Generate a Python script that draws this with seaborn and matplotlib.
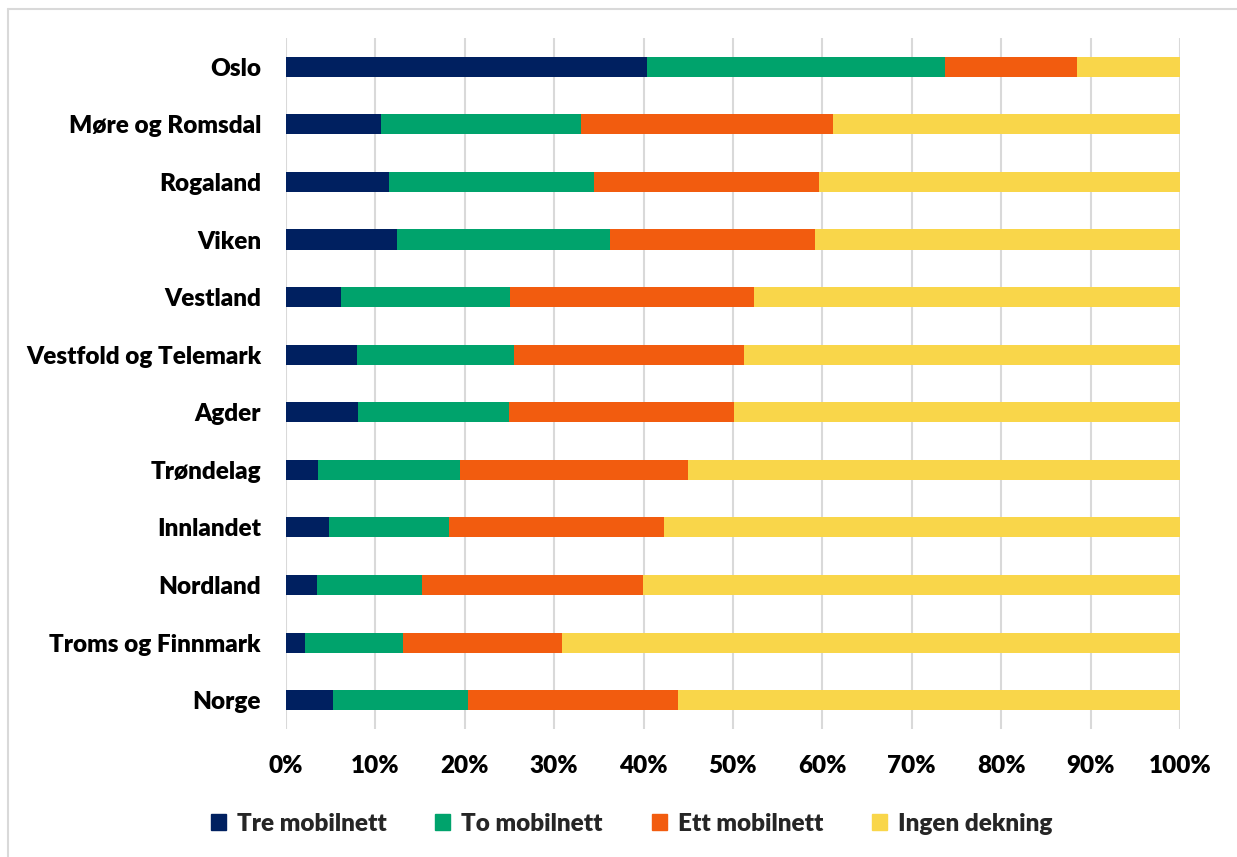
import matplotlib
matplotlib.use("Agg")
import matplotlib.pyplot as plt
from matplotlib.lines import Line2D
from matplotlib.patches import Patch
from matplotlib.ticker import PercentFormatter, MultipleLocator
import pandas as pd
import seaborn as sns

# Share of area by number of mobile networks, per county (percent)
regions = ["Oslo", "Møre og Romsdal", "Rogaland", "Viken", "Vestland",
           "Vestfold og Telemark", "Agder", "Trøndelag", "Innlandet",
           "Nordland", "Troms og Finnmark", "Norge"]
tre = [40.4, 10.6, 11.5, 12.4, 6.2, 7.9, 8.1, 3.6, 4.8, 3.5, 2.1, 5.3]
to = [33.3, 22.4, 23.0, 23.8, 18.9, 17.6, 16.8, 15.9, 13.4, 11.7, 11.0, 15.1]
ett = [14.8, 28.2, 25.1, 23.0, 27.2, 25.7, 25.2, 25.5, 24.1, 24.7, 17.8, 23.4]
ingen = [11.5, 38.8, 40.4, 40.8, 47.7, 48.8, 49.9, 55.0, 57.7, 60.1, 69.1, 56.2]

series = ["Tre mobilnett", "To mobilnett", "Ett mobilnett", "Ingen dekning"]
colors = ["#002060", "#00A36C", "#F25C0F", "#F9D64A"]

sns.set_theme(style="white")
plt.rcParams["font.family"] = ["Lato", "DejaVu Sans"]

FS = 17.5
WEIGHT = "heavy"

df = pd.DataFrame({"region": regions, "Tre mobilnett": tre,
                   "To mobilnett": to, "Ett mobilnett": ett,
                   "Ingen dekning": ingen})
cum = df[series].cumsum(axis=1)

fig = plt.figure(figsize=(12.37, 8.57), dpi=100)
ax = fig.add_axes([0.2312, 0.1494, 0.7227, 0.8063])

# Draw cumulative totals from the widest down so each segment shows on top
for name, col in reversed(list(zip(series, colors))):
    sns.barplot(x=cum[name], y=df["region"], color=col, orient="h",
                width=0.35, ax=ax, saturation=1, linewidth=0, legend=False)

ax.set_xlim(0, 100)
ax.set_ylim(11.5, -0.5)
ax.xaxis.set_major_locator(MultipleLocator(10))
ax.xaxis.set_major_formatter(PercentFormatter(decimals=0))
ax.set_xlabel("")
ax.set_ylabel("")
ax.grid(axis="x", color="#D9D9D9", linewidth=1.5)
ax.set_axisbelow(True)
for s in ax.spines.values():
    s.set_visible(False)
ax.tick_params(axis="both", length=0, labelsize=FS)
ax.tick_params(axis="x", pad=19)
ax.tick_params(axis="y", pad=18)
for lab in ax.get_xticklabels() + ax.get_yticklabels():
    lab.set_fontweight(WEIGHT)
    lab.set_color("black")

handles = [Patch(color=c, label=n) for n, c in zip(series, colors)]
fig.legend(handles=handles, loc="center", bbox_to_anchor=(0.5105, 0.039),
           ncol=4, frameon=False, handlelength=0.62,
           handleheight=0.65, handletextpad=0.45, columnspacing=2.0,
           prop={"weight": WEIGHT, "size": FS})

# Frame lines along the left and top edges
fig.add_artist(Line2D([0.0065, 0.0065], [0.0, 0.9895], color="#D9D9D9",
                      linewidth=1.5, transform=fig.transFigure))
fig.add_artist(Line2D([0.0065, 1.0], [0.9895, 0.9895], color="#D9D9D9",
                      linewidth=1.5, transform=fig.transFigure))

fig.savefig("out.png", dpi=100)
